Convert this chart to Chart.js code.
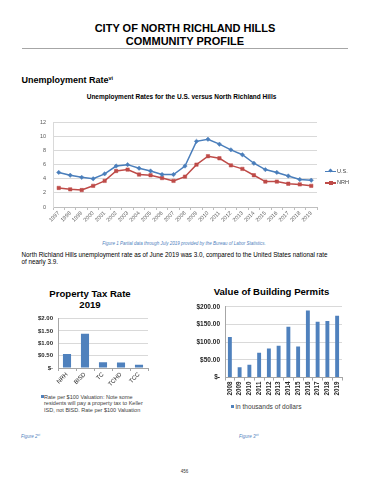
<!DOCTYPE html>
<html>
<head>
<meta charset="utf-8">
<script src="https://cdn.jsdelivr.net/npm/chart.js@4.4.1/dist/chart.umd.min.js"></script>
<style>
  html, body { margin: 0; padding: 0; background: #fff; }
  body { width: 370px; height: 480px; position: relative; overflow: hidden;
         font-family: "Liberation Sans", Arial, sans-serif; color: #000; }
  .abs { position: absolute; white-space: nowrap; }
  .cap { font-style: italic; color: #4f81bd; font-size: 4.5px; line-height: 6px; }
  sup { font-size: 60%; vertical-align: top; position: relative; top: -0.3em; }
  canvas { position: absolute; }
</style>
</head>
<body>
<script>
// ---------------- DATA ----------------
const years = ['1997','1998','1999','2000','2001','2002','2003','2004','2005','2006','2007','2008',
               '2009','2010','2011','2012','2013','2014','2015','2016','2017','2018','2019'];
const usRate  = [4.9, 4.5, 4.2, 4.0, 4.7, 5.8, 6.0, 5.5, 5.1, 4.6, 4.6, 5.8,
                 9.3, 9.6, 8.9, 8.1, 7.4, 6.2, 5.3, 4.9, 4.4, 3.9, 3.8];
const nrhRate = [2.7, 2.5, 2.4, 3.0, 3.7, 5.1, 5.3, 4.6, 4.5, 4.1, 3.7, 4.3,
                 6.0, 7.2, 6.9, 5.9, 5.4, 4.5, 3.6, 3.6, 3.3, 3.2, 3.0];

const taxEntities = ['NRH', 'BISD', 'TC', 'TCHD', 'TCC'];
const taxRates    = [0.57, 1.39, 0.234, 0.224, 0.13];

const permitYears  = ['2008','2009','2010','2011','2012','2013','2014','2015','2016','2017','2018','2019'];
const permitValues = [115, 29, 36, 70, 82, 90, 144, 88, 190, 158, 160, 175];
</script>

<!-- Page header -->
<div class="abs" style="left:0;top:21.5px;width:370px;text-align:center;font-weight:bold;font-size:11px;line-height:13.4px;">CITY OF NORTH RICHLAND HILLS<br>COMMUNITY PROFILE</div>
<div class="abs" style="left:22px;top:47.5px;width:326px;height:0;border-top:1px solid #a6a6a6;"></div>
<div class="abs" style="left:21.5px;top:74.5px;font-weight:bold;font-size:9px;line-height:11px;">Unemployment Rate<sup>vi</sup></div>
<div class="abs" style="left:0;top:93px;width:363px;text-align:center;font-weight:bold;font-size:6.5px;line-height:8px;">Unemployment Rates for the U.S. versus North Richland Hills</div>

<!-- Line chart -->
<canvas id="lineChart" width="350" height="114" style="left:20px;top:112px;"></canvas>
<!-- line chart legend -->
<div class="abs" style="left:325px;top:167px;width:40px;height:20px;font-size:5.5px;color:#404040;">
  <div class="abs" style="left:0;top:3.5px;width:11px;height:1.5px;background:#4a7ebb;"></div>
  <div class="abs" style="left:3.5px;top:2.2px;width:3px;height:3px;background:#4a7ebb;transform:rotate(45deg);"></div>
  <div class="abs" style="left:12px;top:0.5px;line-height:7px;">U.S.</div>
  <div class="abs" style="left:0;top:15px;width:11px;height:1.5px;background:#be4b48;"></div>
  <div class="abs" style="left:3.5px;top:13.7px;width:4px;height:4px;background:#be4b48;"></div>
  <div class="abs" style="left:12px;top:12px;line-height:7px;">NRH</div>
</div>

<div class="abs cap" style="left:0;top:241px;width:368px;text-align:center;">Figure 1 Partial data through July 2019 provided by the Bureau of Labor Statistics.</div>
<div class="abs" style="left:21.5px;top:250.7px;font-size:6.3px;line-height:7.2px;">North Richland Hills unemployment rate as of June 2019 was 3.0, compared to the United States national rate<br>of nearly 3.9.</div>

<!-- Property tax chart -->
<div class="abs" style="left:20px;top:287.5px;width:140px;text-align:center;font-weight:bold;font-size:9.6px;line-height:11px;">Property Tax Rate<br>2019</div>
<canvas id="taxChart" width="140" height="78" style="left:20px;top:310px;"></canvas>
<div class="abs" style="left:40.5px;top:395.3px;width:3px;height:3px;background:#4f81bd;"></div>
<div class="abs" style="left:44px;top:393.5px;font-size:5.5px;line-height:6.6px;color:#404040;">Rate per $100 Valuation: Note some<br>residents will pay a property tax to Keller<br>ISD, not BISD. Rate per $100 Valuation</div>

<!-- Building permits chart -->
<div class="abs" style="left:185px;top:286.2px;width:173px;text-align:center;font-weight:bold;font-size:9.6px;line-height:11px;">Value of Building Permits</div>
<canvas id="permitChart" width="185" height="102" style="left:185px;top:298px;"></canvas>
<div class="abs" style="left:231px;top:405.2px;width:3px;height:3px;background:#4f81bd;"></div>
<div class="abs" style="left:235.5px;top:402.7px;font-size:6.6px;line-height:8px;color:#404040;">in thousands of dollars</div>

<div class="abs cap" style="left:21px;top:433.7px;">Figure 2<sup>vii</sup></div>
<div class="abs cap" style="left:239px;top:433.7px;">Figure 3<sup>viii</sup></div>
<div class="abs" style="left:0;top:468.7px;width:369px;text-align:center;font-size:4.5px;line-height:6px;color:#333;">456</div>

<script>
const FAM = '"Liberation Sans", Arial, sans-serif';
Chart.defaults.font.family = FAM;

// Unemployment line chart
new Chart(document.getElementById('lineChart'), {
  type: 'line',
  data: {
    labels: years,
    datasets: [
      { label: 'U.S.', data: usRate, borderColor: '#4a7ebb', backgroundColor: '#4a7ebb',
        borderWidth: 1.5, pointStyle: 'rectRot', pointRadius: 2.2, pointBorderWidth: 0.5, tension: 0 },
      { label: 'NRH', data: nrhRate, borderColor: '#be4b48', backgroundColor: '#be4b48',
        borderWidth: 1.5, pointStyle: 'rect', pointRadius: 2.4, pointBorderWidth: 0.5, tension: 0 }
    ]
  },
  options: {
    responsive: false, animation: false, devicePixelRatio: 1,
    layout: { padding: { top: 7, right: 53, left: 0, bottom: 0 } },
    plugins: { legend: { display: false }, tooltip: { enabled: false } },
    scales: {
      x: {
        offset: true,
        grid: { display: true, drawOnChartArea: false, drawTicks: true, tickLength: 3, color: '#bfbfbf', offset: true },
        border: { color: '#bfbfbf' },
        ticks: { autoSkip: false, minRotation: 45, maxRotation: 45, padding: 0,
                 font: { size: 5.5 }, color: '#595959' },
        afterFit: s => { s.height = 19; }
      },
      y: {
        min: 0, max: 12,
        grid: { color: '#d9d9d9', drawTicks: false },
        border: { color: '#d9d9d9' },
        ticks: { stepSize: 2, padding: 7, font: { size: 5.5 }, color: '#595959' },
        afterFit: s => { s.width = 33; }
      }
    }
  }
});

const money = v => v === 0 ? '$-' : '$' + Number(v).toFixed(2);

// Property tax bar chart
new Chart(document.getElementById('taxChart'), {
  type: 'bar',
  data: {
    labels: taxEntities,
    datasets: [{ label: 'Rate per $100 Valuation', data: taxRates, backgroundColor: '#4f81bd',
                 borderColor: '#4a7ebb', borderWidth: 0, categoryPercentage: 1, barPercentage: 0.45 }]
  },
  options: {
    responsive: false, animation: false, devicePixelRatio: 1,
    layout: { padding: { top: 7, right: 12, left: 0, bottom: 0 } },
    plugins: { legend: { display: false }, tooltip: { enabled: false } },
    scales: {
      x: {
        grid: { display: true, drawOnChartArea: false, tickLength: 3, color: '#a6a6a6', offset: true },
        border: { color: '#a6a6a6' },
        ticks: { autoSkip: false, minRotation: 45, maxRotation: 45, padding: 0,
                 font: { size: 6 }, color: '#262626' },
        afterFit: s => { s.height = 20; }
      },
      y: {
        min: 0, max: 2,
        grid: { color: '#d9d9d9', drawTicks: false },
        border: { color: '#a6a6a6' },
        ticks: { stepSize: 0.5, padding: 5, callback: money, font: { size: 6, weight: 'bold' }, color: '#262626' },
        afterFit: s => { s.width = 38; }
      }
    }
  }
});

// Building permits bar chart
new Chart(document.getElementById('permitChart'), {
  type: 'bar',
  data: {
    labels: permitYears,
    datasets: [{ label: 'in thousands of dollars', data: permitValues, backgroundColor: '#4f81bd',
                 borderWidth: 0, categoryPercentage: 1, barPercentage: 0.4 }]
  },
  options: {
    responsive: false, animation: false, devicePixelRatio: 1,
    layout: { padding: { top: 7.5, right: 28, left: 0, bottom: 0 } },
    plugins: { legend: { display: false }, tooltip: { enabled: false } },
    scales: {
      x: {
        grid: { display: true, drawOnChartArea: false, tickLength: 3, color: '#a6a6a6', offset: true },
        border: { color: '#a6a6a6' },
        ticks: { autoSkip: false, minRotation: 90, maxRotation: 90, padding: 1,
                 font: { size: 6.3, weight: 'bold' }, color: '#262626' },
        afterFit: s => { s.height = 22.5; }
      },
      y: {
        min: 0, max: 200,
        grid: { color: '#d9d9d9', drawTicks: false },
        border: { color: '#a6a6a6' },
        ticks: { stepSize: 50, padding: 5, callback: money, font: { size: 6.5, weight: 'bold' }, color: '#262626' },
        afterFit: s => { s.width = 40; }
      }
    }
  }
});
</script>
</body>
</html>
